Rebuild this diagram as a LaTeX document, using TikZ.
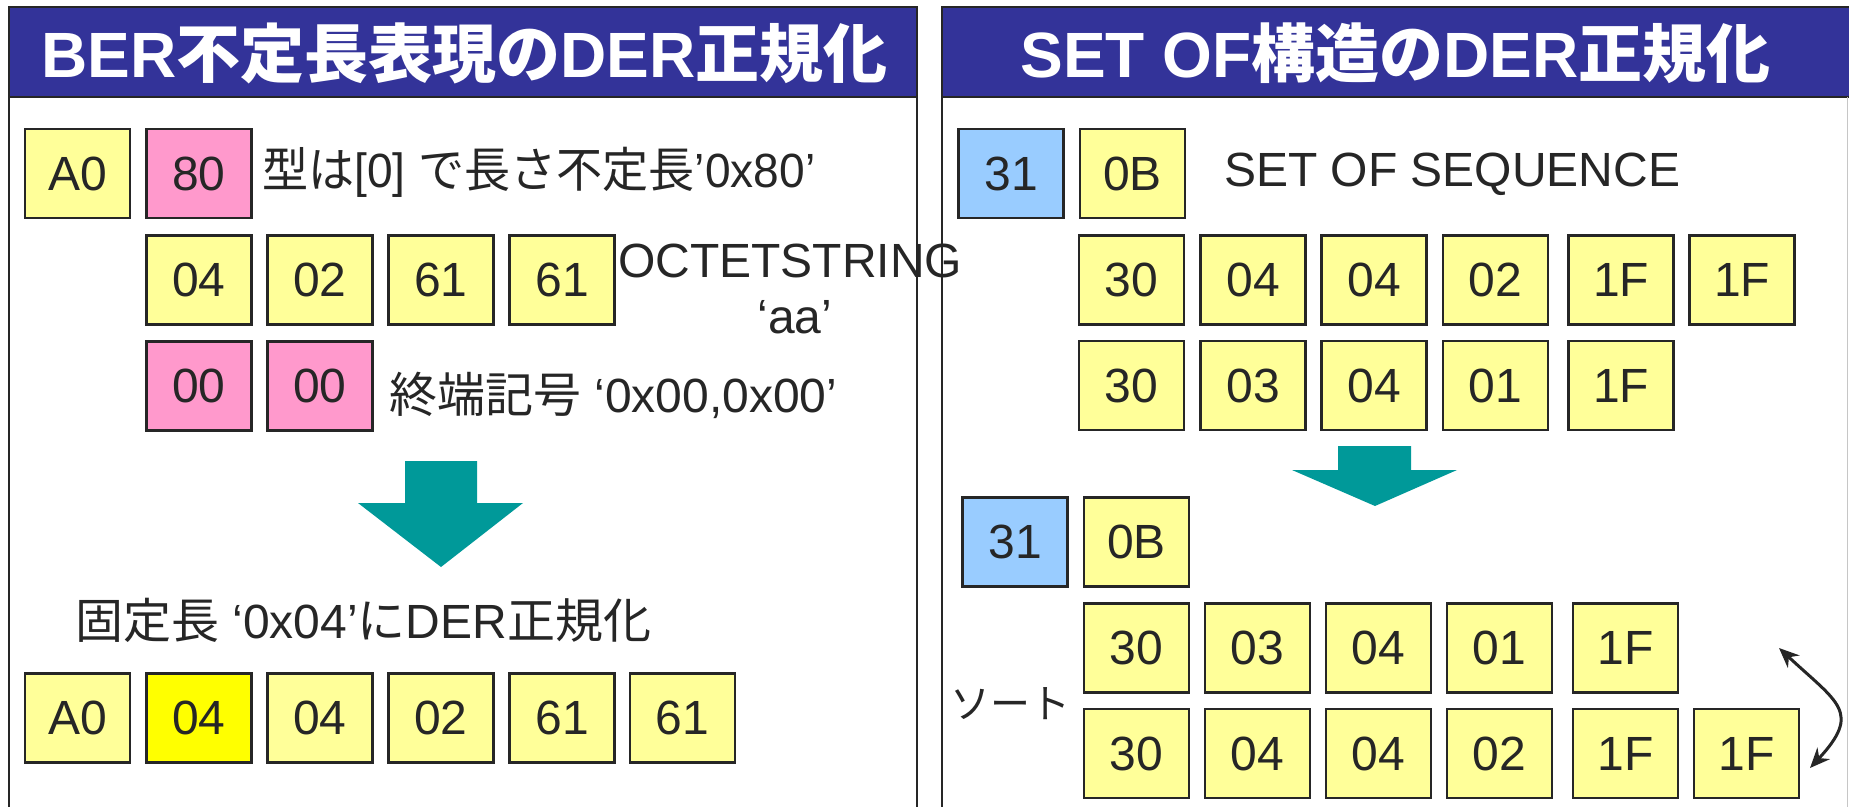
\documentclass[tikz,border=0pt]{standalone}
\usepackage{fontspec}
\usepackage{graphicx}
\setmainfont{Liberation Sans}
\newfontfamily\jp{Noto Sans CJK JP}
\usetikzlibrary{arrows.meta}
\definecolor{titleblue}{HTML}{333399}
\definecolor{lyellow}{HTML}{FFFF99}
\definecolor{bxpink}{HTML}{FF99CC}
\definecolor{lblue}{HTML}{99CCFF}
\definecolor{byellow}{HTML}{FFFF00}
\definecolor{tealarrow}{HTML}{009999}
\definecolor{ink}{HTML}{262626}
\begin{document}
\begin{tikzpicture}[x=1pt,y=-1pt,
  byte/.style={draw=ink, line width=2.5pt, minimum width=105pt, minimum height=89pt,
    inner sep=0pt, font=\fontsize{48}{56}\selectfont, text=ink, fill=lyellow},
  pinkbyte/.style={byte, fill=bxpink},
  bluebyte/.style={byte, fill=lblue},
  hotbyte/.style={byte, fill=byellow},
  body/.style={font=\fontsize{48}{56}\selectfont, text=ink, inner sep=0pt, anchor=base west},
  heading/.style={font=\bfseries\fontsize{64}{72}\selectfont, text=white, inner sep=0pt, anchor=base},
  panelline/.style={draw=ink, line width=2.5pt},
  blockarrow/.style={fill=tealarrow},
  swaparrow/.style={draw=ink, line width=3pt,
    {Stealth[length=20pt,width=17pt]}-{Stealth[length=20pt,width=17pt]}}
]
\clip (0,0) rectangle (1849,806);
\fill[white] (0,0) rectangle (1849,806);

% panels
\draw[panelline] (9,830) -- (9,7) -- (917,7) -- (917,830);
\filldraw[panelline, fill=titleblue] (9,7) rectangle (917,97);
\draw[panelline] (942,830) -- (942,7) -- (1870,7);
\filldraw[panelline, fill=titleblue] (942,7) rectangle (1870,97);
\draw[gray!45, line width=1.5pt] (1847.5,97) -- (1847.5,830);

\node[heading] (h1) at (464.5,77) {BER{\jp 不定長表現の}DER{\jp 正規化}};
\node[heading] (h2) at (1395.5,77) {SET OF{\jp 構造の}DER{\jp 正規化}};

% left panel
\node[byte] (la0) at (77.5,173.5) {A0};
\node[pinkbyte] (l80) at (199,173.5) {80};
\node[body] (t80) at (262,187) {\scalebox{0.96}[1]{{\jp 型は}[0] {\jp で長さ不定長}’0x80’}};

\node[byte] (l04) at (199,280) {04};
\node[byte] (l02) at (320,280) {02};
\node[byte] (l61a) at (441,280) {61};
\node[byte] (l61b) at (562,280) {61};
\node[body] (toct) at (618,277) {OCTETSTRING};
\node[body, anchor=base] (taa) at (795,333) {‘aa’};

\node[pinkbyte] (l00a) at (199,386) {00};
\node[pinkbyte] (l00b) at (320,386) {00};
\node[body] (tend) at (389,412) {{\jp 終端記号} ‘0x00,0x00’};

\fill[blockarrow] (405,461) -- (477,461) -- (477,503) -- (523,503) -- (441,567) -- (358,503) -- (405,503) -- cycle;

\node[body] (tfix) at (75,638) {{\jp 固定長} ‘0x04’{\jp に}DER{\jp 正規化}};

\node[byte] (ra0) at (77.5,718) {A0};
\node[hotbyte] (r04a) at (199,718) {04};
\node[byte] (r04b) at (320,718) {04};
\node[byte] (r02) at (441,718) {02};
\node[byte] (r61a) at (562,718) {61};
\node[byte] (r61b) at (682.5,718) {61};

% right panel
\node[bluebyte] (s31) at (1011,173.5) {31};
\node[byte] (s0b) at (1132.5,173.5) {0B};
\node[body] (tset) at (1224,186) {SET OF SEQUENCE};

\node[byte] (sa1) at (1131.5,280) {30};
\node[byte] (sa2) at (1253,280) {04};
\node[byte] (sa3) at (1374,280) {04};
\node[byte] (sa4) at (1495.5,280) {02};
\node[byte] (sa5) at (1621,280) {1F};
\node[byte] (sa6) at (1742,280) {1F};

\node[byte] (sb1) at (1131.5,385.5) {30};
\node[byte] (sb2) at (1253,385.5) {03};
\node[byte] (sb3) at (1374,385.5) {04};
\node[byte] (sb4) at (1495.5,385.5) {01};
\node[byte] (sb5) at (1621,385.5) {1F};

\fill[blockarrow] (1338,446) -- (1411,446) -- (1411,470) -- (1457,470) -- (1375,506) -- (1292,470) -- (1338,470) -- cycle;

\node[bluebyte] (d31) at (1015,542) {31};
\node[byte] (d0b) at (1136.5,542) {0B};

\node[byte] (da1) at (1136.5,648) {30};
\node[byte] (da2) at (1257.5,648) {03};
\node[byte] (da3) at (1378.5,648) {04};
\node[byte] (da4) at (1499.5,648) {01};
\node[byte] (da5) at (1625.5,648) {1F};

\node[byte] (db1) at (1136.5,753.5) {30};
\node[byte] (db2) at (1257.5,753.5) {04};
\node[byte] (db3) at (1378.5,753.5) {04};
\node[byte] (db4) at (1499.5,753.5) {02};
\node[byte] (db5) at (1625.5,753.5) {1F};
\node[byte] (db6) at (1746.5,753.5) {1F};

\node[body, anchor=center, font=\fontsize{40}{48}\selectfont] (tsort) at (1010,704) {\jp ソート};

\coordinate (swapA) at (1779,648);
\coordinate (swapB) at (1810,768);
\draw[swaparrow] (swapA) .. controls (1838,703) and (1862,712) .. (swapB);
\end{tikzpicture}
\end{document}
